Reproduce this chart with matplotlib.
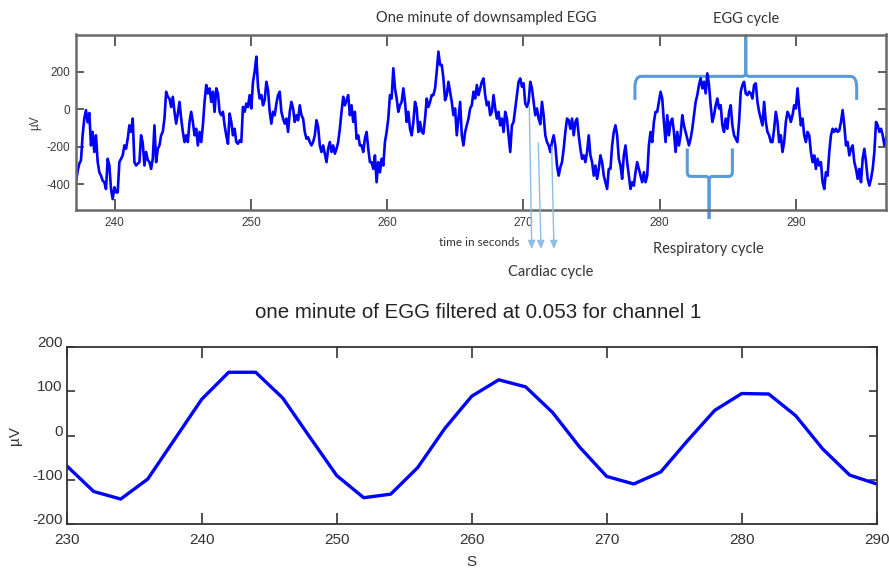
import numpy as np
import matplotlib
matplotlib.use("Agg")
import matplotlib.pyplot as plt
from matplotlib.path import Path
from matplotlib.patches import PathPatch

plt.rcParams['axes.unicode_minus'] = False

# ---------------- data ----------------
# downsampled EGG (top panel): regular sampling grid
raw_t0 = 237.045
raw_dt = 0.12255
raw_uv = [
    # 237 - 245.5
    -400, -389, -330, -290, -273, -139, -50, -5, -70, -20,
    -193, -121, -228, -139, -280, -336, -354, -380, -389, -425,
    -264, -300, -425, -479, -416, -443, -443, -282, -264, -246,
    -193, -211, -157, -86, -121, -50, -282, -300, -290, -282,
    -139, -180, -300, -228, -270, -282, -318, -264, -86, -282,
    -211, -193, -139, -120, -50, 93, 66, 57, 12, 66,
    -14, -77, -23, 39, -50, -121, -175, -139, -175, -68,
    # 245.5 - 254
    -14, -68, -139, -104, -193, -121, -175, -86, 39, 129,
    84, 111, 39, 93, -14, 111, 84, -14, -32, -14,
    -86, -139, -184, -23, -68, -139, -104, -175, -184, -166,
    -175, 12, -14, 30, 12, 75, 4, 146, 200, 280,
    120, 57, 75, 21, 48, 146, 102, -14, -77, -14,
    -32, 30, 75, 93, -14, -50, -77, -50, -121, -14,
    39, 4, -68, -32, -59, 21, -32, -50, -121, -157,
    # 254 - 262.5
    -150, -175, -193, -175, -139, -59, -95, -193, -228, -193,
    -237, -282, -211, -175, -228, -193, -237, -211, -175, -104,
    -14, 66, 21, 48, 75, -32, 21, -68, -14, -157,
    -139, -193, -193, -228, -157, -121, -211, -282, -282, -318,
    -246, -389, -282, -336, -264, -300, -175, -121, -50, 75,
    57, 218, 111, 57, -14, 21, 39, 111, 39, -68,
    -14, -104, -139, -68, 39, 4, -121, -68, -121,
    # 262.5 - 271
    -130, -50, 57, 12, 39, 75, 75, 111, 200, 307,
    236, 236, 164, 48, 75, 146, 93, 39, -32, 4,
    -139, -50, 39, -139, -193, -121, -86, -50, 4, 21,
    93, 57, 129, 75, 111, 146, 164, 75, 21, 39,
    -32, -14, 75, 4, -50, -14, -86, -50, -121, -14,
    -50, -139, -228, -86, -68, 4, 75, 146, 164, 120,
    138, 30, 12, 39, 146, 111, 39, -32, 4, -50,
    # 271 - 279.7
    -80, 39, -32, -139, -175, -193, -228, -175, -139, -193,
    -300, -354, -309, -282, -211, -121, -50, -59, -104, -50,
    -139, -68, -50, -139, -211, -264, -246, -282, -228, -139,
    -246, -282, -354, -300, -371, -318, -246, -282, -354, -389,
    -425, -318, -318, -193, -121, -86, -139, -264, -300, -371,
    -246, -193, -282, -354, -425, -389, -407, -336, -282, -318,
    -354, -389, -336, -389, -354, -193, -121, -175, -68, -14,
    # 279.7 - 288.2
    -14, 39, 93, 57, -68, -175, -32, -139, -68, -50,
    -121, -228, -121, -193, -139, -32, -86, -121, -157, -193,
    -157, -104, -32, 39, 75, 129, 164, 111, 146, 84,
    191, 129, 21, -68, -32, 21, 57, 4, 21, -86,
    -121, -50, -104, -14, 21, -86, -139, -157, -175, -68,
    93, 129, 146, 84, 75, 93, 84, 57, 129, 138,
    39, -14, -50, -86, 39, -68, -121, -139, -175,
    # 288.2 - 296.8
    -175, -104, -14, -68, -175, -139, -228, -175, -68, -14,
    -32, -68, -32, 21, 4, 111, 4, -86, -50, -139,
    -175, -121, -139, -228, -282, -246, -318, -264, -300, -282,
    -389, -425, -336, -354, -228, -139, -104, -121, -104, -121,
    -113, -68, -5, -86, -193, -175, -246, -211, -193, -282,
    -318, -371, -318, -389, -264, -211, -282, -371, -407, -371,
    -318, -228, -68, -86, -121, -104, -139, -193, -157, -121,
    -139,
]

# filtered EGG (bottom panel)
filt_t = [230, 232, 234, 236, 238, 240, 242, 244, 246, 248, 250,
          252, 254, 256, 258, 260, 262, 264, 266, 268, 270,
          272, 274, 276, 278, 280, 282, 284, 286, 288, 290]
filt_uv = [-68, -126, -143, -98, -8, 82, 143, 143, 85, -3, -90,
           -140, -132, -72, 16, 89, 126, 110, 52, -26, -92,
           -109, -82, -11, 57, 95, 94, 45, -30, -89, -109]

top_xticks = [240, 250, 260, 270, 280, 290]
top_yticks = [-400, -200, 0, 200]
bot_xticks = [230, 240, 250, 260, 270, 280, 290]
bot_yticks = [-200, -100, 0, 100, 200]

# ---------------- figure ----------------
W, H = 889, 575
fig = plt.figure(figsize=(W / 100, H / 100), dpi=100)
fig.patch.set_facecolor('white')

def fx(px):
    return px / W

def fy(py):
    return 1 - py / H

ANN = ['Lato', 'DejaVu Sans']
ARIAL = ['Liberation Sans', 'DejaVu Sans']

# ---- top panel ----
ax1 = fig.add_axes([fx(75.7), fy(210), fx(886) - fx(75.7), fy(34.5) - fy(210)])
t = raw_t0 + raw_dt * np.arange(len(raw_uv))
ax1.plot(t, raw_uv, color='#0000ff', lw=1.9)
ax1.set_xlim(237.15, 296.6)
ax1.set_ylim(-537, 398)
ax1.set_xticks(top_xticks)
ax1.set_yticks(top_yticks)
ax1.tick_params(direction='in', top=True, right=True, length=8, width=1.3,
                color='#505050', labelsize=8.5, labelcolor='#3a3a3a', pad=5)
ax1.tick_params(axis='y', length=6, pad=4)
for lab in ax1.get_xticklabels() + ax1.get_yticklabels():
    lab.set_family(ARIAL)
for s in ax1.spines.values():
    s.set_color('#6a6a6a')
    s.set_linewidth(1.8)
ax1.set_ylabel('µV', fontsize=8.5, color='#3a3a3a', family=ARIAL)
ax1.yaxis.set_label_coords(-0.042, 0.5)

# ---- bottom panel ----
ax2 = fig.add_axes([fx(66.7), fy(524.3), fx(876.7) - fx(66.7), fy(347) - fy(524.3)])
ax2.plot(filt_t, filt_uv, color='#0000ff', lw=2.4)
ax2.set_xlim(230, 290)
ax2.set_ylim(-200, 200)
ax2.set_xticks(bot_xticks)
ax2.set_yticks(bot_yticks)
ax2.tick_params(direction='in', top=True, right=True, length=8, width=1.2,
                color='#333333', labelsize=11, labelcolor='#333333', pad=6)
ax2.tick_params(axis='y', length=6, pad=3)
for lab in ax2.get_xticklabels() + ax2.get_yticklabels():
    lab.set_family(ARIAL)
for lab in ax2.get_yticklabels():
    lab.set_va('baseline')
for s in ax2.spines.values():
    s.set_color('#333333')
    s.set_linewidth(1.3)
ax2.set_ylabel('µV', fontsize=11, color='#333333', family=ARIAL)
ax2.yaxis.set_label_coords(-0.055, 0.5)
ax2.set_xlabel('S', fontsize=11, color='#333333', family=ARIAL, labelpad=6)
fig.text(fx(478), fy(313), 'one minute of EGG filtered at 0.053 for channel 1',
         ha='center', va='center', fontsize=14.8, color='#222222', family=ARIAL)

# ---- annotations ----
BR = '#5b9bd5'

def brace(ax, x0, x1, xc, y_h, y_end, y_tip, rx, ry, cx, cy):
    s_end = np.sign(y_h - y_end)
    s_tip = np.sign(y_tip - y_h)
    for a, sx in ((x0, 1), (x1, -1)):
        verts = [(a, y_end), (a, y_h - s_end * ry), (a, y_h), (a + sx * rx, y_h),
                 (xc - sx * cx, y_h), (xc, y_h), (xc, y_h + s_tip * cy), (xc, y_tip)]
        codes = [Path.MOVETO, Path.LINETO, Path.CURVE3, Path.CURVE3,
                 Path.LINETO, Path.CURVE3, Path.CURVE3, Path.LINETO]
        p = PathPatch(Path(verts, codes), fill=False, edgecolor=BR, lw=2.2,
                      clip_on=False, capstyle='butt', joinstyle='round')
        ax.add_patch(p)

# EGG cycle brace
brace(ax1, 278.18, 294.45, 286.31, 175, 50, 398, 0.45, 60, 0.25, 25)
# Respiratory cycle brace
brace(ax1, 282.02, 285.33, 283.62, -358, -209, -585, 0.25, 25, 0.25, 25)

# cardiac arrows
for (xs, ys, xe) in [(270.43, 14, 270.61), (271.09, -180, 271.29), (272.07, -199, 272.24)]:
    ax1.annotate('', xy=(xe, -745), xytext=(xs, ys), xycoords='data',
                 annotation_clip=False,
                 arrowprops=dict(arrowstyle='-|>,head_length=0.5,head_width=0.22',
                                 color='#8fbde6', lw=1.0, shrinkA=0, shrinkB=0))

fig.text(fx(486), fy(18), 'One minute of downsampled EGG', ha='center', va='center',
         fontsize=10.5, color='#333333', family=ANN)
fig.text(fx(746), fy(19), 'EGG cycle', ha='center', va='center',
         fontsize=10.5, color='#333333', family=ANN)
fig.text(fx(479), fy(242), 'time in seconds', ha='center', va='center',
         fontsize=8.5, color='#333333', family=ANN)
fig.text(fx(551), fy(272), 'Cardiac cycle', ha='center', va='center',
         fontsize=10.5, color='#333333', family=ANN)
fig.text(fx(708.5), fy(249), 'Respiratory cycle', ha='center', va='center',
         fontsize=10.5, color='#333333', family=ANN)

fig.savefig('out.png', dpi=100, facecolor='white')
